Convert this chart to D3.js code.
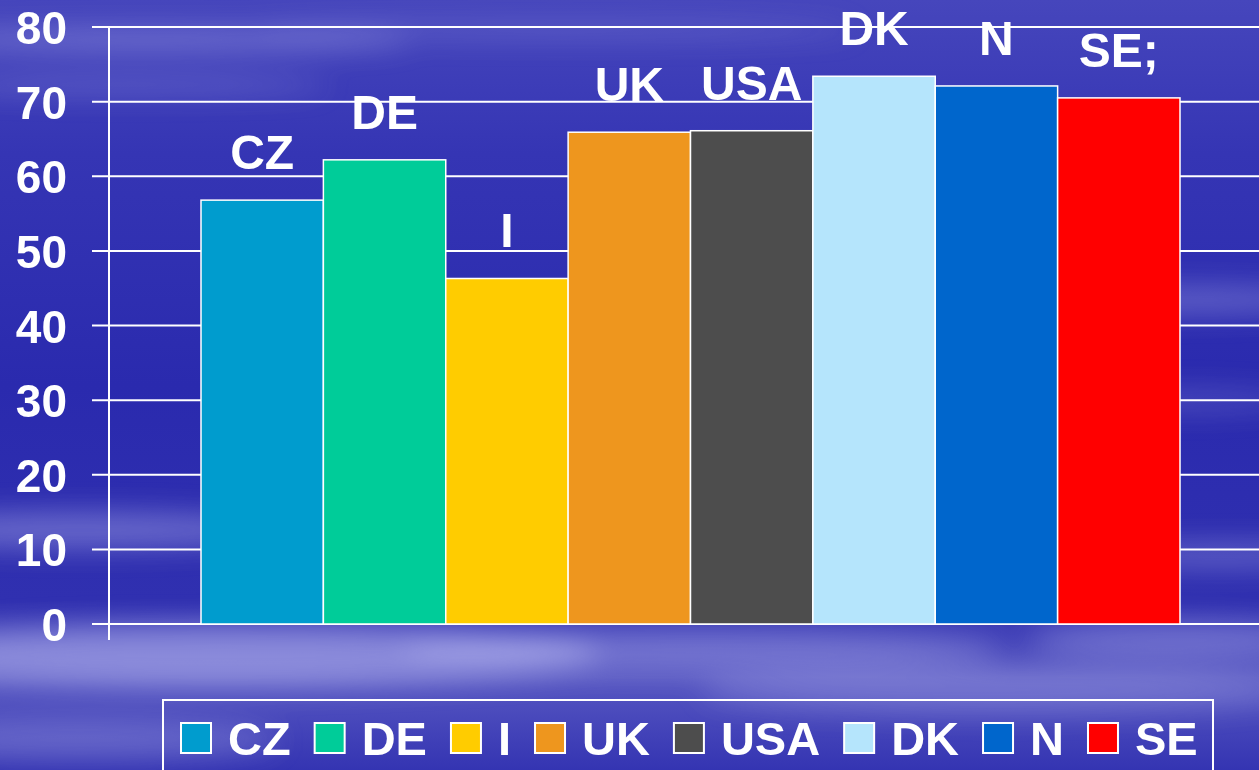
<!DOCTYPE html>
<html lang="en">
<head>
<meta charset="utf-8">
<title>Bar chart</title>
<script src="https://d3js.org/d3.v7.min.js"></script>
<style>
  html, body { margin: 0; padding: 0; background: #2d2db0; }
  svg { display: block; }
  text { font-family: "Liberation Sans", Arial, sans-serif; font-weight: bold; fill: #fff; }
</style>
</head>
<body>
<script>
// data
var countries = ["CZ", "DE", "I", "UK", "USA", "DK", "N", "SE"];
var values = [56.8, 62.2, 46.3, 65.9, 66.1, 73.4, 72.1, 70.5];
var barLabels = ["CZ", "DE", "I", "UK", "USA", "DK", "N", "SE;"];
var colors = ["#009cce", "#00cc99", "#ffcc00", "#ee961e", "#4d4d4d", "#b5e5fc", "#0066cc", "#ff0000"];
var yTicks = [0, 10, 20, 30, 40, 50, 60, 70, 80];

var width = 1259;
var height = 770;

var svg = d3.select("body").append("svg")
    .attr("width", width)
    .attr("height", height);

var defs = svg.append("defs");

// background gradient + soft cloud streaks
var bg = defs.append("linearGradient")
    .attr("id", "bg")
    .attr("x1", 0).attr("y1", 0).attr("x2", 0).attr("y2", 1);
bg.append("stop").attr("offset", "0%").attr("stop-color", "#4646bc");
bg.append("stop").attr("offset", "20%").attr("stop-color", "#3535b4");
bg.append("stop").attr("offset", "50%").attr("stop-color", "#2a2aae");
bg.append("stop").attr("offset", "78%").attr("stop-color", "#3030b0");
bg.append("stop").attr("offset", "88%").attr("stop-color", "#5858c2");
bg.append("stop").attr("offset", "100%").attr("stop-color", "#3434b2");

defs.append("filter")
    .attr("id", "blur")
    .attr("x", "-50%").attr("y", "-50%").attr("width", "200%").attr("height", "200%")
  .append("feGaussianBlur")
    .attr("stdDeviation", 14);

svg.append("rect")
    .attr("width", width)
    .attr("height", height)
    .attr("fill", "url(#bg)");

var clouds = [
  [150, 40, 260, 10, 0.35], [560, 30, 300, 8, 0.2], [130, 85, 200, 8, 0.25],
  [1180, 300, 160, 14, 0.3], [1180, 400, 120, 12, 0.18],
  [80, 530, 220, 18, 0.35], [1220, 555, 160, 12, 0.3],
  [220, 655, 380, 30, 0.45], [700, 650, 300, 20, 0.3], [1000, 690, 300, 22, 0.25],
  [1180, 640, 150, 18, 0.3], [80, 740, 200, 20, 0.25]
];
svg.append("g")
    .attr("filter", "url(#blur)")
  .selectAll("ellipse")
  .data(clouds)
  .enter().append("ellipse")
    .attr("cx", function(d) { return d[0]; })
    .attr("cy", function(d) { return d[1]; })
    .attr("rx", function(d) { return d[2]; })
    .attr("ry", function(d) { return d[3]; })
    .attr("fill", "#d8d8ff")
    .attr("opacity", function(d) { return d[4]; });

// scales
var y = d3.scaleLinear()
    .domain([0, 80])
    .range([624, 27]);

var x = d3.scaleBand()
    .domain(countries)
    .range([201, 1180])
    .padding(0);

var axisX = 109;

// gridlines
svg.append("g")
    .selectAll("line")
    .data(yTicks)
    .enter().append("line")
      .attr("x1", 92)
      .attr("x2", width)
      .attr("y1", function(d) { return y(d); })
      .attr("y2", function(d) { return y(d); })
      .attr("stroke", "#fff")
      .attr("stroke-width", 2);

// bars
svg.append("g")
    .selectAll("rect")
    .data(countries)
    .enter().append("rect")
      .attr("x", function(d) { return x(d); })
      .attr("y", function(d, i) { return y(values[i]); })
      .attr("width", x.bandwidth())
      .attr("height", function(d, i) { return y(0) - y(values[i]); })
      .attr("fill", function(d, i) { return colors[i]; })
      .attr("stroke", "#fff")
      .attr("stroke-width", 1.5);

// y axis
var yAxis = svg.append("g")
    .attr("transform", "translate(" + axisX + ",0)")
    .call(d3.axisLeft(y).tickValues(yTicks).tickSize(0).tickPadding(42));
yAxis.select(".domain").remove();
yAxis.selectAll("text")
    .attr("font-size", "46px")
    .attr("dy", "0.36em")
    .attr("fill", "#fff")
    .style("font-family", "'Liberation Sans', Arial, sans-serif");

svg.append("line")
    .attr("x1", axisX).attr("x2", axisX)
    .attr("y1", y(80)).attr("y2", 640)
    .attr("stroke", "#fff")
    .attr("stroke-width", 2);

// bar labels
svg.append("g")
    .selectAll("text")
    .data(barLabels)
    .enter().append("text")
      .attr("x", function(d, i) { return x(countries[i]) + x.bandwidth() / 2; })
      .attr("y", function(d, i) { return y(values[i]) - 31; })
      .attr("text-anchor", "middle")
      .attr("font-size", "48px")
      .text(function(d) { return d; });

// legend
var legend = svg.append("g");
legend.append("rect")
    .attr("x", 163)
    .attr("y", 700)
    .attr("width", 1050)
    .attr("height", 100)
    .attr("fill", "none")
    .attr("stroke", "#fff")
    .attr("stroke-width", 2);

var lx = 181;
countries.forEach(function(c, i) {
    legend.append("rect")
        .attr("x", lx)
        .attr("y", 723)
        .attr("width", 30)
        .attr("height", 30)
        .attr("fill", colors[i])
        .attr("stroke", "#fff")
        .attr("stroke-width", 2);
    var t = legend.append("text")
        .attr("x", lx + 47)
        .attr("y", 755)
        .attr("font-size", "47px")
        .text(c);
    lx = lx + 47 + t.node().getComputedTextLength() + 24;
});
</script>
</body>
</html>
